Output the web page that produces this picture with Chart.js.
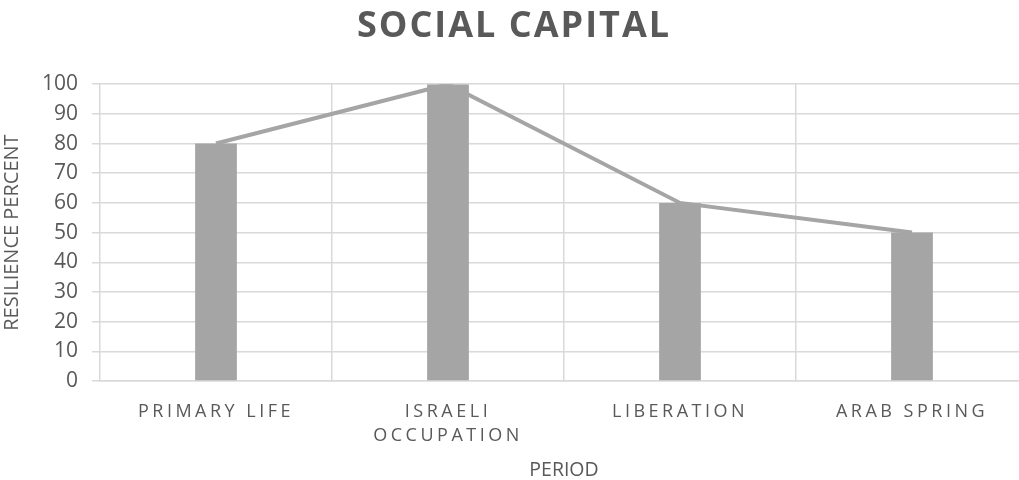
<!DOCTYPE html>
<html>
<head>
<meta charset="utf-8">
<script src="https://cdn.jsdelivr.net/npm/chart.js@4.4.0/dist/chart.umd.min.js"></script>
<style>
  html, body { margin: 0; padding: 0; background: #fff; overflow: hidden; }
  #wrap { width: 1040px; height: 480px; }
</style>
</head>
<body>
<div id="wrap"><canvas id="chart"></canvas></div>
<script>
const periods = ['PRIMARY LIFE', ['ISRAELI', 'OCCUPATION'], 'LIBERATION', 'ARAB SPRING'];
const resilience = [80, 100, 60, 50];
const yTicks = [0, 10, 20, 30, 40, 50, 60, 70, 80, 90, 100];

const grey = '#a5a5a5';
const textColor = '#595959';
const gridColor = '#d9d9d9';

// spaced-out lettering for the title and category labels
const spacing = {
  id: 'spacing',
  afterLayout(chart) {
    const ctx = chart.ctx;
    const wrap = (obj, fn, px) => {
      if (obj[fn]._spaced) return;
      const orig = obj[fn];
      obj[fn] = function (...args) {
        ctx.save();
        ctx.letterSpacing = px;
        orig.apply(this, args);
        ctx.restore();
      };
      obj[fn]._spaced = true;
    };
    wrap(chart.scales.x, 'drawLabels', '3.5px');
    wrap(chart.titleBlock, 'draw', '2px');
  }
};

new Chart(document.getElementById('chart'), {
  data: {
    labels: periods,
    datasets: [
      {
        type: 'line',
        data: resilience,
        borderColor: grey,
        borderWidth: 4,
        pointRadius: 0,
        tension: 0,
        order: 0
      },
      {
        type: 'bar',
        data: resilience,
        backgroundColor: grey,
        categoryPercentage: 1,
        barPercentage: 0.18,
        order: 1
      }
    ]
  },
  options: {
    responsive: true,
    maintainAspectRatio: false,
    animation: false,
    layout: { padding: { left: 0, right: 12, top: 0, bottom: 0 } },
    plugins: {
      legend: { display: false },
      tooltip: { enabled: false },
      title: {
        display: true,
        text: 'SOCIAL CAPITAL',
        color: textColor,
        font: { family: 'Open Sans', size: 36, weight: 'bold' },
        padding: { top: 5, bottom: 36 }
      }
    },
    scales: {
      x: {
        grid: { color: gridColor, lineWidth: 1.5, offset: true, tickLength: 0 },
        border: { color: gridColor, width: 1.5 },
        ticks: {
          color: textColor,
          font: { family: 'Open Sans', size: 18, lineHeight: 1.38 },
          padding: 18,
          maxRotation: 0
        },
        title: {
          display: true,
          text: 'PERIOD',
          color: textColor,
          font: { family: 'Open Sans', size: 19.5, lineHeight: 1 },
          padding: { top: 4, bottom: 0 }
        },
        afterFit(scale) { scale.height = 99; }
      },
      y: {
        min: 0,
        max: 100,
        afterBuildTicks(scale) { scale.ticks = yTicks.map(v => ({ value: v })); },
        grid: { color: gridColor, lineWidth: 1.5, tickLength: 8 },
        border: { display: false },
        ticks: {
          color: textColor,
          font: { family: 'Open Sans', size: 21 },
          padding: 14
        },
        title: {
          display: true,
          text: 'RESILIENCE PERCENT',
          color: textColor,
          font: { family: 'Open Sans', size: 20 },
          padding: { top: 0, bottom: 0 }
        },
        afterFit(scale) { scale.width = 100; }
      }
    }
  },
  plugins: [spacing]
});
</script>
</body>
</html>
